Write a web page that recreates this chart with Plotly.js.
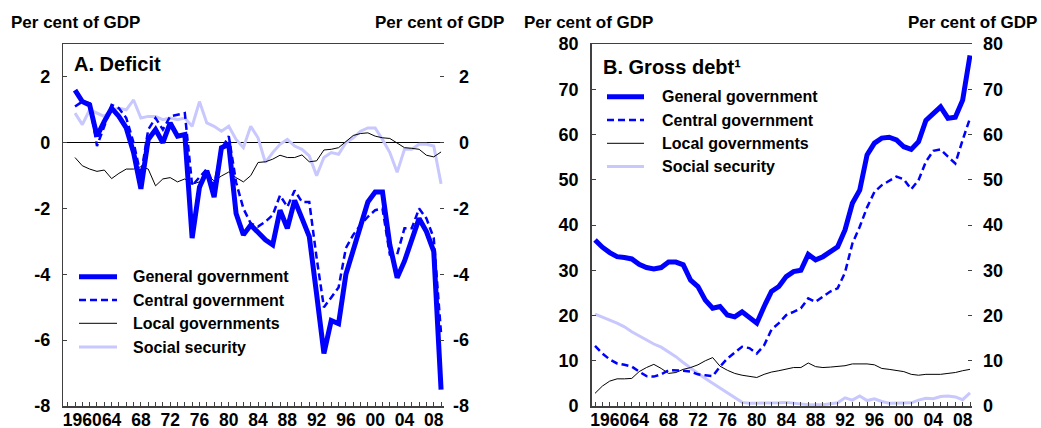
<!DOCTYPE html>
<html>
<head>
<meta charset="utf-8">
<script src="https://cdn.plot.ly/plotly-3.0.1.min.js"></script>
<style>
html,body{margin:0;padding:0;background:#fff;}
#chart{width:1041px;height:428px;}
</style>
</head>
<body>
<div id="chart"></div>
<script>
// ---------- DATA ----------
const deficitYears = [1959,1960,1961,1962,1963,1964,1965,1966,1967,1968,1969,1970,1971,1972,1973,1974,1975,1976,1977,1978,1979,1980,1981,1982,1983,1984,1985,1986,1987,1988,1989,1990,1991,1992,1993,1994,1995,1996,1997,1998,1999,2000,2001,2002,2003,2004,2005,2006,2007,2008,2009];
const defGeneral = [1.6,1.25,1.15,0.2,0.65,1.05,0.8,0.45,-0.3,-1.4,0.1,0.4,0.0,0.6,0.2,0.25,-2.9,-1.35,-0.85,-1.65,-0.15,-0.05,-2.15,-2.8,-2.5,-2.75,-2.95,-3.1,-2.05,-2.6,-1.75,-2.3,-2.85,-4.6,-6.4,-5.4,-5.5,-4.0,-3.3,-2.6,-1.8,-1.5,-1.5,-3.1,-4.1,-3.6,-2.95,-2.3,-2.7,-3.3,-7.5];
const defCentral = [1.1,1.25,1.2,-0.1,0.5,1.15,1.05,0.75,0.0,-1.0,0.4,0.75,0.4,0.8,0.85,0.9,-1.3,-1.05,-0.8,-1.3,-0.2,0.2,-1.2,-2.0,-2.45,-2.55,-2.4,-2.2,-1.6,-1.95,-1.45,-1.8,-1.8,-3.5,-5.0,-4.7,-4.4,-3.2,-2.8,-2.5,-2.25,-2.05,-2.0,-3.4,-3.4,-2.6,-2.6,-2.0,-2.3,-2.9,-5.8];
const defLocal = [-0.45,-0.7,-0.8,-0.87,-0.83,-1.09,-0.93,-0.8,-0.8,-0.73,-0.8,-1.31,-1.1,-1.06,-1.19,-1.1,-1.26,-1.19,-0.96,-1.16,-1.01,-0.89,-1.06,-1.19,-1.0,-0.6,-0.58,-0.5,-0.38,-0.45,-0.45,-0.37,-0.58,-0.55,-0.22,-0.2,-0.15,0.05,0.22,0.28,0.3,0.2,0.15,0.13,0.0,-0.15,-0.17,-0.2,-0.38,-0.43,-0.28];
const defSocial = [0.9,0.55,1.0,0.9,0.8,1.0,1.05,1.0,1.3,0.75,0.8,0.8,0.7,0.75,0.7,0.75,0.5,1.25,0.6,0.5,0.35,0.5,0.1,-0.15,0.5,0.15,-0.6,-0.3,-0.05,0.1,-0.1,-0.2,-0.4,-1.0,-0.45,-0.3,-0.35,0.0,0.15,0.35,0.45,0.45,0.1,-0.3,-0.9,-0.2,-0.2,-0.05,-0.05,-0.1,-1.25];

const debtYears = [1958,1959,1960,1961,1962,1963,1964,1965,1966,1967,1968,1969,1970,1971,1972,1973,1974,1975,1976,1977,1978,1979,1980,1981,1982,1983,1984,1985,1986,1987,1988,1989,1990,1991,1992,1993,1994,1995,1996,1997,1998,1999,2000,2001,2002,2003,2004,2005,2006,2007,2008,2009];
const debtGeneral = [36.7,35.1,33.9,33.0,32.8,32.5,31.3,30.6,30.3,30.6,31.8,31.8,31.2,27.8,26.4,23.4,21.6,22.0,20.1,19.7,20.8,19.7,18.3,22.0,25.3,26.4,28.6,29.7,30.0,33.5,32.3,33.0,34.1,35.2,38.9,44.8,47.7,55.5,58.1,59.2,59.4,58.8,57.3,56.7,58.4,63.1,64.6,66.1,63.6,63.8,67.6,77.5];
const debtCentral = [13.3,11.6,10.3,9.4,9.1,8.7,7.6,6.6,6.5,7.0,7.9,7.9,7.8,7.6,7.0,6.8,6.6,8.7,10.5,11.8,13.1,12.8,11.6,13.4,16.9,18.3,20.1,20.8,21.6,23.8,23.0,24.2,25.3,26.0,29.5,35.9,39.6,43.9,47.3,48.8,49.8,50.7,50.1,47.9,49.9,54.0,56.4,56.7,55.1,53.6,58.8,63.6];
const debtLocal = [2.8,4.4,5.5,6.0,6.0,6.1,7.6,8.5,9.2,8.3,7.2,7.4,8.1,8.5,9.1,10.0,10.7,8.8,7.9,7.2,6.8,6.6,6.3,7.0,7.5,7.8,8.2,8.5,8.5,9.5,8.7,8.5,8.6,8.8,8.9,9.3,9.3,9.3,9.1,8.3,8.1,7.9,7.6,7.0,6.8,7.0,7.0,7.0,7.2,7.4,7.8,8.1];
const debtSocial = [20.3,19.7,19.0,18.3,17.5,16.4,15.5,14.6,13.7,13.0,12.0,10.9,9.6,8.3,7.2,6.1,5.0,3.9,2.8,1.7,0.8,0.6,0.6,0.6,0.6,0.7,0.8,0.6,0.4,0.3,0.3,0.3,0.5,0.7,1.8,1.3,2.2,1.2,1.6,1.0,0.6,0.6,0.6,0.7,1.3,1.7,1.6,2.1,2.2,2.0,1.4,2.9];

const seriesNames = ["General government","Central government","Local governments","Social security"];
const xTickVals = [1960,1964,1968,1972,1976,1980,1984,1988,1992,1996,2000,2004,2008];
const xTickText = ["1960","64","68","72","76","80","84","88","92","96","00","04","08"];
const defTickVals = [-8,-6,-4,-2,0,2];
const defTickText = ["-8","-6","-4","-2","0","2"];
const defTickTextRight = ["-8","-6","-4","-2","\u2006\u20060","\u2006\u20062"];
const debtTickVals = [0,10,20,30,40,50,60,70,80];
const debtTickText = ["0","10","20","30","40","50","60","70","80"];

// ---------- STYLE ----------
const W = 1041, H = 428;
const px = v => v / W;
const py = v => 1 - v / H;
const FONT = "Liberation Sans, Arial, sans-serif";
const blue = "#0000ff", lav = "#c8c8ff", black = "#000000", frame = "#404040";
const styles = [
  {color: blue, width: 5, dash: "solid"},
  {color: blue, width: 2.5, dash: "7px,4px"},
  {color: black, width: 1, dash: "solid"},
  {color: lav, width: 3, dash: "solid"}
];

function mk(x, y, i, xa, ya) {
  return {x: x, y: y, type: "scatter", mode: "lines", name: seriesNames[i],
    xaxis: xa, yaxis: ya, showlegend: false, hoverinfo: "skip",
    line: {color: styles[i].color, width: styles[i].width, dash: styles[i].dash}};
}
const traces = [
  mk(deficitYears, defSocial, 3, "x", "y"),
  mk(deficitYears, defLocal, 2, "x", "y"),
  mk(deficitYears, defCentral, 1, "x", "y"),
  mk(deficitYears, defGeneral, 0, "x", "y"),
  mk(debtYears, debtSocial, 3, "x2", "y3"),
  mk(debtYears, debtLocal, 2, "x2", "y3"),
  mk(debtYears, debtCentral, 1, "x2", "y3"),
  mk(debtYears, debtGeneral, 0, "x2", "y3"),
  {x: [deficitYears[0]], y: [defGeneral[0]], xaxis: "x", yaxis: "y2", type: "scatter", mode: "none", showlegend: false, hoverinfo: "skip"},
  {x: [debtYears[0]], y: [debtGeneral[0]], xaxis: "x2", yaxis: "y4", type: "scatter", mode: "none", showlegend: false, hoverinfo: "skip"}
];

const tickFont = {family: FONT, size: 18, color: "#000", weight: "bold"};
const xTickFont = {family: FONT, size: 17.5, color: "#000", weight: "bold"};
const yDom = [22 / H, 1 - 44 / H];

function xAxis(dom, range, anchor) {
  return {domain: dom, range: range, anchor: anchor, tickmode: "array",
    tickvals: xTickVals, ticktext: xTickText, ticks: "inside", ticklen: 4, tickangle: 0,
    tickcolor: frame, showline: true, linecolor: frame, linewidth: 1.5, mirror: true,
    showgrid: false, zeroline: false, tickfont: xTickFont, ticklabelstandoff: -3,
    minor: {tickmode: "linear", tick0: 1957, dtick: 1, ticks: "inside", ticklen: 4, tickcolor: frame, showgrid: false},
    fixedrange: true};
}
function yAxis(range, vals, text, anchor, side, over, zl) {
  const a = {domain: yDom, range: range, anchor: anchor, side: side, tickmode: "array",
    tickvals: vals, ticktext: text, ticks: "inside", ticklen: 4, tickcolor: frame,
    showline: true, linecolor: frame, linewidth: 1.5, showgrid: false,
    zeroline: zl, zerolinecolor: "#000", zerolinewidth: 1,
    tickfont: tickFont, ticklabelstandoff: 8, fixedrange: true};
  if (over) a.overlaying = over;
  return a;
}

const leftDom = [px(63.3), px(444)];
const rightDom = [px(591.7), px(972)];

const annFont = {family: FONT, size: 17, color: "#000", weight: "bold"};
const legFont = {family: FONT, size: 16, color: "#000", weight: "bold"};
const titleFont = {family: FONT, size: 20, color: "#000", weight: "bold"};
const annotations = [
  {text: "Per cent of GDP", x: px(9), y: py(23), xanchor: "left", yanchor: "middle"},
  {text: "Per cent of GDP", x: px(506), y: py(23), xanchor: "right", yanchor: "middle"},
  {text: "Per cent of GDP", x: px(522), y: py(23), xanchor: "left", yanchor: "middle"},
  {text: "Per cent of GDP", x: px(1039), y: py(23), xanchor: "right", yanchor: "middle"},
].map(a => Object.assign({xref: "paper", yref: "paper", showarrow: false, font: annFont}, a));

annotations.push(Object.assign({xref: "paper", yref: "paper", showarrow: false, font: titleFont},
  {text: "A. Deficit", x: px(72), y: py(64), xanchor: "left", yanchor: "middle"}));
annotations.push(Object.assign({xref: "paper", yref: "paper", showarrow: false, font: titleFont},
  {text: "B. Gross debt¹", x: px(601), y: py(67), xanchor: "left", yanchor: "middle"}));

const shapes = [];
function legend(sx0, sx1, tx, rows) {
  rows.forEach((ry, i) => {
    const st = styles[i];
    shapes.push({type: "line", xref: "paper", yref: "paper", x0: px(sx0), x1: px(sx1), y0: py(ry), y1: py(ry),
      line: {color: st.color, width: st.width, dash: st.dash}});
    annotations.push({xref: "paper", yref: "paper", showarrow: false, font: legFont,
      text: seriesNames[i], x: px(tx), y: py(ry), xanchor: "left", yanchor: "middle"});
  });
}
legend(79, 117, 131, [276.7, 300, 323.3, 347]);
legend(607, 644, 660, [96.7, 120, 143.3, 166.5]);

const layout = {
  width: W, height: H, margin: {l: 0, r: 0, t: 0, b: 0},
  paper_bgcolor: "#fff", plot_bgcolor: "#fff", showlegend: false, hovermode: false,
  font: {family: FONT, size: 16, color: "#000"},
  xaxis: xAxis(leftDom, [1957.4, 2009.4], "y"),
  yaxis: yAxis([-8, 3], defTickVals, defTickText, "x", "left", null, true),
  yaxis2: yAxis([-8, 3], defTickVals, defTickTextRight, "x", "right", "y", false),
  xaxis2: xAxis(rightDom, [1957.55, 2009.27], "y3"),
  yaxis3: yAxis([0, 80], debtTickVals, debtTickText, "x2", "left", null, false),
  yaxis4: yAxis([0, 80], debtTickVals, debtTickText, "x2", "right", "y3", false),
  annotations: annotations, shapes: shapes
};
layout.yaxis2.showline = false; layout.yaxis4.showline = false;
layout.yaxis4.ticklabelstandoff = 10;

Plotly.newPlot("chart", traces, layout, {displayModeBar: false, staticPlot: true});
</script>
</body>
</html>
